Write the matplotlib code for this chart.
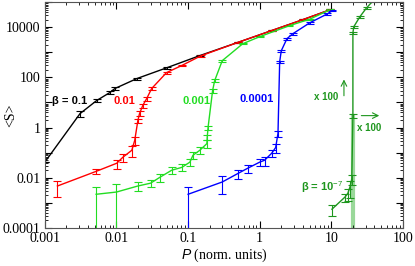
import numpy as np
import matplotlib
matplotlib.use("Agg")
import matplotlib.pyplot as plt
from matplotlib.ticker import LogLocator, FixedLocator, NullFormatter, FixedFormatter

# -----------------------------
# Data
# -----------------------------
# beta = 0.1
x_b1 = [0.001, 0.0031, 0.0053, 0.0081, 0.0095, 0.0193, 0.05, 0.146, 0.5, 1.5, 4.0, 9.5]
y_b1 = [0.042, 3.6, 12, 25, 36, 90, 240, 740, 2500, 7500, 20000, 49000]
e_b1 = [0.0, 1.0, 2.0, 3.0, 4.0, 8.0, 20, 50, 150, 400, 1000, 2000]

# beta = 0.01
x_b2 = [0.0015, 0.0052, 0.0101, 0.0123, 0.0164, 0.018, 0.0199, 0.021, 0.0233, 0.0265,
        0.031, 0.05, 0.082, 0.15, 0.5, 1.5, 4.0, 9.5]
y_b2 = [0.0047, 0.018, 0.038, 0.066, 0.125, 0.31, 1.9, 3.6, 7.6, 14.5,
        36, 155, 300, 720, 2500, 7500, 20000, 49000]
e_b2 = [0.003, 0.004, 0.015, 0.025, 0.06, 0.1, 0.4, 0.8, 1.5, 2.5,
        5, 15, 25, 50, 150, 400, 1000, 2000]

# beta = 0.001
x_b3 = [0.0052, 0.01, 0.0199, 0.030, 0.0405, 0.059, 0.082, 0.106, 0.117, 0.146, 0.183,
        0.185, 0.19, 0.22, 0.235, 0.3, 0.58, 1.0, 2.6, 5.0, 9.5]
y_b3 = [0.0022, 0.0027, 0.0047, 0.0061, 0.0105, 0.02, 0.026, 0.042, 0.079, 0.125, 0.23,
        0.41, 1.0, 30, 74, 465, 2200, 4200, 11500, 21000, 49000]
e_b3_up = [0.002, 0.003, 0.0018, 0.002, 0.004, 0.006, 0.008, 0.012, 0.025, 0.04, 0.08,
           0.1, 0.2, 5, 10, 40, 150, 250, 600, 1000, 2000]

# beta = 0.0001
x_b4 = [0.1, 0.3, 0.5, 0.68, 1.0, 1.17, 1.47, 1.67, 1.8, 1.9, 2.0, 2.4, 2.9, 5.0, 8.8, 10.2]
y_b4 = [0.0022, 0.0068, 0.015, 0.024, 0.042, 0.05, 0.095, 0.16, 0.59, 420, 1150, 3500,
        5500, 15000, 34000, 45000]
e_b4_up = [0.002, 0.0045, 0.006, 0.008, 0.012, 0.02, 0.03, 0.06, 0.15, 40, 100, 300,
           400, 1000, 2000, 2500]

# beta = 1e-7 (x 100 in P and <S>)
x_b7 = [10.2, 15.5, 17.0, 18.3, 19.3, 20.0, 20.0, 20.6, 25, 31, 38]
y_b7 = [0.00056, 0.0017, 0.0024, 0.0045, 0.009, 3.0, 6000, 10500, 26000, 59000, 110000]
e_b7 = [0.00025, 0.0006, 0.0012, 0.003, 0.004, 0.5, 500, 800, 2000, 4000, 6000]

# -----------------------------
# Plot
# -----------------------------
plt.rcParams["mathtext.fontset"] = "custom"
plt.rcParams["mathtext.it"] = "Liberation Sans:italic"
plt.rcParams["mathtext.rm"] = "Liberation Sans"

fig = plt.figure(figsize=(4.15, 2.66), dpi=100, facecolor="white")
ax = fig.add_axes([0.108, 0.143, 0.863, 0.849])

c_red = "#ff0000"
c_lime = "#22dd22"
c_blue = "#0000ff"
c_dk = "#1e961e"


def curve(x, y, up, lo, color, lw=1.0):
    ax.errorbar(x, y, yerr=[lo, up], color=color, lw=lw, elinewidth=0.8,
                capsize=3, capthick=0.8, ecolor=color)


# light vertical band of the 1e-7 curve
ax.plot([20.0, 20.0], [1e-4, 3.0], color="#9ad89a", lw=3, zorder=1)

curve(x_b1, y_b1, e_b1, e_b1, "black")
curve(x_b2, y_b2, e_b2, e_b2, c_red)
lo3 = [v * 0.99999 if i < 2 else e for i, (v, e) in enumerate(zip(y_b3, e_b3_up))]
curve(x_b3, y_b3, e_b3_up, lo3, c_lime)
lo4 = [v * 0.99999 if i == 0 else e for i, (v, e) in enumerate(zip(y_b4, e_b4_up))]
curve(x_b4, y_b4, e_b4_up, lo4, c_blue)
curve(x_b7, y_b7, e_b7, [min(e, v * 0.9) for v, e in zip(y_b7, e_b7)], c_dk)

ax.set_xscale("log")
ax.set_yscale("log")
ax.set_xlim(0.001, 100)
ax.set_ylim(1e-4, 1e5)

xt = [0.001, 0.01, 0.1, 1, 10, 100]
ax.xaxis.set_major_locator(FixedLocator(xt))
ax.xaxis.set_major_formatter(FixedFormatter(["0.001", "0.01", "0.1", "1", "10", "100"]))
ax.xaxis.set_minor_locator(LogLocator(base=10, subs=np.arange(2, 10), numticks=20))
ax.xaxis.set_minor_formatter(NullFormatter())

yt = [1e-4, 1e-3, 1e-2, 1e-1, 1, 10, 100, 1e3, 1e4, 1e5]
ylab = ["0.0001", "", "0.01", "", "1", "", "100", "", "10000", ""]
ax.yaxis.set_major_locator(FixedLocator(yt))
ax.yaxis.set_major_formatter(FixedFormatter(ylab))
ax.yaxis.set_minor_locator(LogLocator(base=10, subs=np.arange(2, 10), numticks=20))
ax.yaxis.set_minor_formatter(NullFormatter())

ax.tick_params(which="both", direction="in", top=True, right=True)
ax.tick_params(which="major", length=5, width=0.8, labelsize=10, pad=3)
ax.tick_params(which="minor", length=2.5, width=0.6)
for lab in ax.get_xticklabels() + ax.get_yticklabels():
    lab.set_family("Liberation Serif")
for s in ax.spines.values():
    s.set_color("#555555")
    s.set_linewidth(0.8)

ax.set_xlabel(r"$P$ (norm. units)", family="Liberation Serif", fontsize=10, labelpad=1)
ax.set_ylabel("<S>", family="Liberation Serif", fontsize=10)
ax.yaxis.set_label_coords(-0.078, 0.5)

# curve labels
kw = dict(fontsize=8, fontweight="bold", family="Liberation Sans", ha="center", va="center")
ax.text(0.0022, 12, "β = 0.1", color="black", **kw)
ax.text(0.013, 12, "0.01", color=c_red, **kw)
ax.text(0.133, 12, "0.001", color=c_lime, **kw)
ax.text(0.91, 14, "0.0001", color=c_blue, **kw)
ax.text(7.4, 0.0043, r"β = 10$^{-7}$", color=c_dk, **kw)

# x 100 scaling annotations
ax.annotate("", xy=(15, 107), xytext=(15, 14.4),
            arrowprops=dict(arrowstyle="->", color=c_dk, lw=0.8))
ax.text(8.4, 17, "x 100", color=c_dk, fontsize=7, fontweight="bold",
        family="Liberation Sans", ha="center", va="center")
ax.annotate("", xy=(51, 3.0), xytext=(24, 3.0),
            arrowprops=dict(arrowstyle="->", color=c_dk, lw=0.8))
ax.text(33.5, 1.0, "x 100", color=c_dk, fontsize=7, fontweight="bold",
        family="Liberation Sans", ha="center", va="center")

fig.savefig("out.png", dpi=100, facecolor="white")
